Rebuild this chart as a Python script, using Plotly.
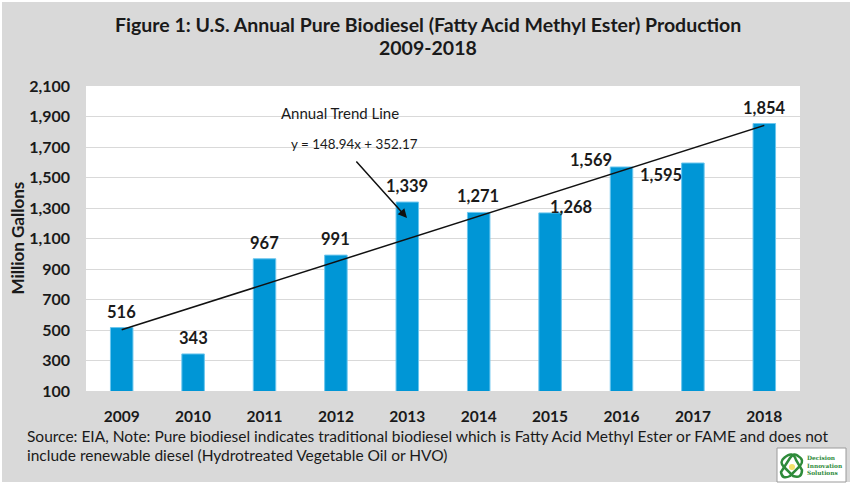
import plotly.graph_objects as go

# ---- data ----
YEARS = ["2009", "2010", "2011", "2012", "2013", "2014", "2015", "2016", "2017", "2018"]
PRODUCTION = [516, 343, 967, 991, 1339, 1271, 1268, 1569, 1595, 1854]
LABELS = ["516", "343", "967", "991", "1,339", "1,271", "1,268", "1,569", "1,595", "1,854"]
Y_TICKS = [100, 300, 500, 700, 900, 1100, 1300, 1500, 1700, 1900, 2100]
TREND_SLOPE = 148.94
TREND_INTERCEPT = 352.17

# label placement offsets (px) relative to bar top: (dx, dy)
LABEL_OFFSETS = [(0, 16), (0, 16), (0, 16), (0, 16), (0, 16), (-1, 16),
                 (21, 6), (-31, 6.5), (-32, -12), (0, 16)]

W, H = 857, 488
L, R, T, B = 86, 800, 86, 391
PW, PH = R - L, B - T


def px(x):
    return (x - L) / PW


def py(y):
    return (B - y) / PH


FONT = "Lato, 'Open Sans', sans-serif"
TXT = "#1a1a1a"
BLUE = "#0096d6"
GRAY_BG = "#d9d9d9"
GREEN = "#2e8b3a"

IDX = list(range(len(YEARS)))

fig = go.Figure()

fig.add_trace(go.Bar(
    x=IDX, y=PRODUCTION, width=0.315,
    marker=dict(color=BLUE, line=dict(color="#6cc6ee", width=1)),
    hoverinfo="skip", showlegend=False,
))

# trend line from the fitted equation (x = 1..n), between first and last year
n = len(YEARS)
fig.add_trace(go.Scatter(
    x=[IDX[0], IDX[-1]],
    y=[TREND_SLOPE * 1 + TREND_INTERCEPT, TREND_SLOPE * n + TREND_INTERCEPT],
    mode="lines", line=dict(color="#111111", width=1.5),
    hoverinfo="skip", showlegend=False,
))

annotations = []
for i, v, lab, (dx, dy) in zip(IDX, PRODUCTION, LABELS, LABEL_OFFSETS):
    annotations.append(dict(
        x=i, y=v, xref="x", yref="y", text=f"<b>{lab}</b>", showarrow=False,
        xanchor="center", yanchor="middle", xshift=dx, yshift=dy,
        font=dict(family=FONT, size=16.5, color=TXT),
    ))

# title
annotations.append(dict(
    x=px(428), y=py(24), xref="paper", yref="paper",
    text="<b>Figure 1: U.S. Annual Pure Biodiesel (Fatty Acid Methyl Ester) Production</b>",
    showarrow=False, xanchor="center", yanchor="middle",
    font=dict(family=FONT, size=19.5, color=TXT),
))
annotations.append(dict(
    x=px(428), y=py(47), xref="paper", yref="paper", text="<b>2009-2018</b>",
    showarrow=False, xanchor="center", yanchor="middle",
    font=dict(family=FONT, size=19.5, color=TXT),
))

# y-axis title
annotations.append(dict(
    x=px(17), y=0.5, xref="paper", yref="paper", text="<b>Million Gallons</b>",
    textangle=-90, showarrow=False, xanchor="center", yanchor="middle",
    font=dict(family=FONT, size=17, color=TXT),
))

# trend line callouts
annotations.append(dict(
    x=px(340), y=py(113), xref="paper", yref="paper", text="Annual Trend Line",
    showarrow=False, xanchor="center", yanchor="middle",
    font=dict(family=FONT, size=15, color=TXT),
))
annotations.append(dict(
    x=px(354), y=py(144), xref="paper", yref="paper",
    text=f"y = {TREND_SLOPE}x + {TREND_INTERCEPT}",
    showarrow=False, xanchor="center", yanchor="middle",
    font=dict(family=FONT, size=13.4, color=TXT),
))
annotations.append(dict(
    x=px(407), y=py(218), xref="paper", yref="paper", text="",
    showarrow=True, arrowhead=2, arrowsize=1.2, arrowwidth=1.5, arrowcolor="#111111",
    ax=-52, ay=-58, standoff=0,
))

# source note
annotations.append(dict(
    x=px(25), y=py(436), xref="paper", yref="paper",
    text="Source: EIA, Note: Pure biodiesel indicates traditional biodiesel which is Fatty Acid Methyl Ester or FAME and does not",
    showarrow=False, xanchor="left", yanchor="middle",
    font=dict(family=FONT, size=15.5, color=TXT),
))
annotations.append(dict(
    x=px(25), y=py(455), xref="paper", yref="paper",
    text="include renewable diesel (Hydrotreated Vegetable Oil or HVO)",
    showarrow=False, xanchor="left", yanchor="middle",
    font=dict(family=FONT, size=15.5, color=TXT),
))

# logo text
annotations.append(dict(
    x=px(805), y=py(465), xref="paper", yref="paper",
    text="<b>Decision<br>Innovation<br>Solutions</b>",
    showarrow=False, xanchor="left", yanchor="middle", align="left",
    font=dict(family="'DejaVu Serif', serif", size=5.8, color=GREEN),
))

shapes = [
    # gray frame
    dict(type="rect", xref="paper", yref="paper", x0=px(2), x1=px(850), y0=py(482), y1=py(2),
         fillcolor=GRAY_BG, line=dict(width=0), layer="below"),
    # white plot area
    dict(type="rect", xref="paper", yref="paper", x0=0, x1=1, y0=0, y1=1,
         fillcolor="white", line=dict(width=0), layer="below"),
    # logo box
    dict(type="rect", xref="paper", yref="paper", x0=px(777), x1=px(846), y0=py(482), y1=py(448),
         fillcolor="white", line=dict(color="#9a9a9a", width=1)),
    # logo knot
    dict(type="path", xref="paper", yref="paper",
         path=(f"M {px(784)},{py(458)} Q {px(793)},{py(450)} {px(796)},{py(460)} "
               f"L {px(802)},{py(470)} Q {px(802)},{py(479)} {px(793)},{py(476)} "
               f"L {px(784)},{py(467)} Q {px(779)},{py(462)} {px(784)},{py(458)} Z"),
         line=dict(color=GREEN, width=2.5), fillcolor="rgba(0,0,0,0)"),
    dict(type="path", xref="paper", yref="paper",
         path=(f"M {px(798)},{py(456)} Q {px(805)},{py(460)} {px(800)},{py(466)} "
               f"L {px(790)},{py(476)} Q {px(782)},{py(480)} {px(781)},{py(472)} "
               f"L {px(790)},{py(458)} Q {px(794)},{py(452)} {px(798)},{py(456)} Z"),
         line=dict(color=GREEN, width=2.5), fillcolor="rgba(0,0,0,0)"),
    dict(type="circle", xref="paper", yref="paper",
         x0=px(789), x1=px(795), y0=py(470), y1=py(464),
         fillcolor="#f2e06a", line=dict(width=0)),
]

fig.update_layout(
    width=W, height=H,
    margin=dict(l=L, r=W - R, t=T, b=H - B, pad=0, autoexpand=False),
    paper_bgcolor="white", plot_bgcolor="white",
    showlegend=False,
    annotations=annotations,
    shapes=shapes,
    xaxis=dict(
        range=[-0.5, len(YEARS) - 0.5], tickvals=IDX, ticktext=YEARS,
        showgrid=False, showline=False, zeroline=False, automargin=False,
        ticks="", ticklabelstandoff=14,
        tickfont=dict(family=FONT, size=15.5, color=TXT, weight="bold"),
    ),
    yaxis=dict(
        range=[100, 2100], tickvals=Y_TICKS, tickformat=",",
        showgrid=True, gridcolor="#d9d9d9", gridwidth=1, automargin=False,
        zeroline=False, showline=False, ticks="", ticklabelstandoff=15,
        tickfont=dict(family=FONT, size=16, color=TXT, weight="bold"),
    ),
)

fig.write_html("out.html", config={"displayModeBar": False, "staticPlot": True})

# remove default page margin so the figure sits at the window's top-left
with open("out.html", "r", encoding="utf-8") as f:
    html = f.read()
html = html.replace("<body>", '<body style="margin:0;padding:0;overflow:hidden">', 1)
with open("out.html", "w", encoding="utf-8") as f:
    f.write(html)
